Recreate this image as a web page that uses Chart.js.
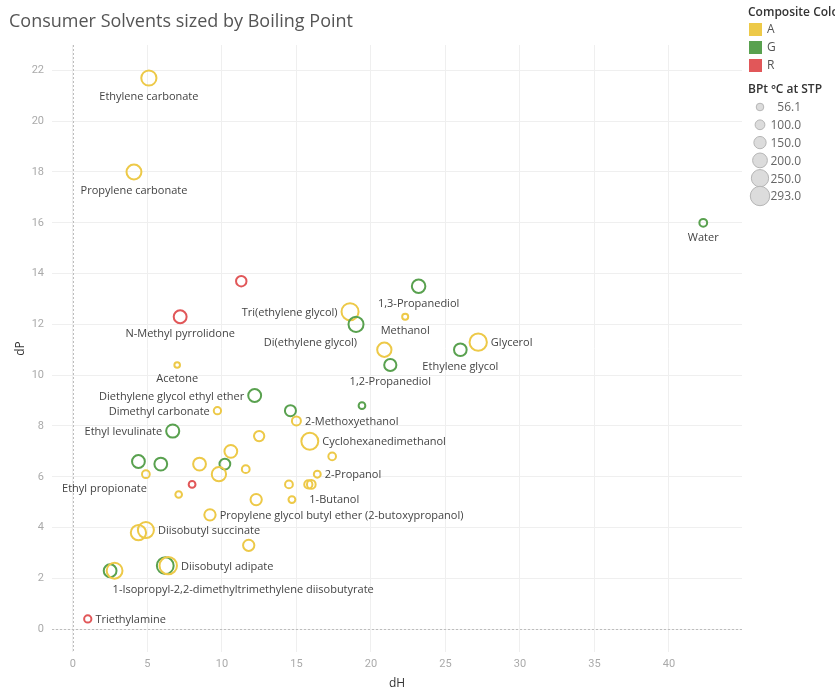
<!DOCTYPE html>
<html>
<head>
<meta charset="utf-8">
<title>Consumer Solvents sized by Boiling Point</title>
<script src="https://cdn.jsdelivr.net/npm/chart.js@4.4.1/dist/chart.umd.min.js"></script>
<style>
  html, body { margin: 0; padding: 0; background: #fff; }
  #wrap { width: 835px; height: 691px; }
</style>
</head>
<body>
<div id="wrap"><canvas id="solventChart" width="835" height="691"></canvas></div>
<script>
// solvent names ('' = unlabelled mark)
const solventNames = [
  'Ethylene carbonate', 'Propylene carbonate', 'Water', '', 'N-Methyl pyrrolidone',
  '1,3-Propanediol', 'Tri(ethylene glycol)', 'Di(ethylene glycol)', 'Methanol', 'Glycerol',
  'Ethylene glycol', '', '1,2-Propanediol', 'Acetone', 'Diethylene glycol ethyl ether',
  'Dimethyl carbonate', '', '', '2-Methoxyethanol', 'Ethyl levulinate',
  '', 'Cyclohexanedimethanol', '', '', '',
  '', '', '', '', '',
  'Ethyl propionate', '', '', '', '',
  '1-Butanol', '2-Propanol', '', '', 'Propylene glycol butyl ether (2-butoxypropanol)',
  '', 'Diisobutyl succinate', '', '', 'Diisobutyl adipate',
  '', '1-Isopropyl-2,2-dimethyltrimethylene diisobutyrate', 'Triethylamine'
];
const dH = [
  5.1, 4.1, 42.3, 11.3, 7.2,
  23.2, 18.6, 19.0, 22.3, 27.2,
  26.0, 20.9, 21.3, 7.0, 12.2,
  9.7, 14.6, 19.4, 15.0, 6.7,
  12.5, 15.9, 17.4, 10.6, 4.4,
  5.9, 8.5, 10.2, 9.8, 11.6,
  4.9, 8.0, 7.1, 14.5, 15.8,
  16.0, 16.4, 14.7, 12.3, 9.2,
  4.4, 4.9, 11.8, 6.2, 6.4,
  2.5, 2.8, 1.0
];
const dP = [
  21.7, 18.0, 16.0, 13.7, 12.3,
  13.5, 12.5, 12.0, 12.3, 11.3,
  11.0, 11.0, 10.4, 10.4, 9.2,
  8.6, 8.6, 8.8, 8.2, 7.8,
  7.6, 7.4, 6.8, 7.0, 6.6,
  6.5, 6.5, 6.5, 6.1, 6.3,
  6.1, 5.7, 5.3, 5.7, 5.7,
  5.7, 6.1, 5.1, 5.1, 4.5,
  3.8, 3.9, 3.3, 2.5, 2.5,
  2.3, 2.3, 0.4
];
const boilingPoint = [
  248, 242, 100, 153, 202,
  214, 285, 245, 65, 290,
  197, 230, 188, 56.1, 202,
  90, 165, 78, 124, 206,
  150, 283, 97, 200, 200,
  200, 200, 160, 230, 100,
  99, 80, 77, 100, 108,
  118, 82, 82, 170, 171,
  250, 265, 170, 280, 293,
  200, 260, 89
];
const compositeColour = [
  'A', 'A', 'G', 'R', 'R',
  'G', 'A', 'G', 'A', 'A',
  'G', 'A', 'G', 'A', 'G',
  'A', 'G', 'G', 'A', 'G',
  'A', 'A', 'A', 'A', 'G',
  'G', 'A', 'G', 'A', 'A',
  'A', 'R', 'A', 'A', 'A',
  'A', 'A', 'A', 'A', 'A',
  'A', 'A', 'A', 'G', 'A',
  'G', 'A', 'R'
];
const xTickValues = [0, 5, 10, 15, 20, 25, 30, 35, 40];
const yTickValues = [0, 2, 4, 6, 8, 10, 12, 14, 16, 18, 20, 22];
const colourKeys = ['A', 'G', 'R'];
const sizeLegendValues = ['56.1', '100.0', '150.0', '200.0', '250.0', '293.0'];

// styling
const colourMap = { A: '#EDC948', G: '#59A14F', R: '#E15759' };
const radiusFor = bp => 1.4 + 0.025 * bp;
// where each label sits relative to its mark
const labelPlace = {
  'Ethylene carbonate': 'b', 'Propylene carbonate': 'b', 'Water': 'b',
  'N-Methyl pyrrolidone': 'b', '1,3-Propanediol': 'b', 'Tri(ethylene glycol)': 'l',
  'Di(ethylene glycol)': 'bl', 'Methanol': 'b', 'Glycerol': 'r', 'Ethylene glycol': 'b',
  '1,2-Propanediol': 'b', 'Acetone': 'b', 'Diethylene glycol ethyl ether': 'l',
  'Dimethyl carbonate': 'l', '2-Methoxyethanol': 'r', 'Ethyl levulinate': 'l',
  'Cyclohexanedimethanol': 'r', 'Ethyl propionate': 'bl', '1-Butanol': 'br',
  '2-Propanol': 'r', 'Propylene glycol butyl ether (2-butoxypropanol)': 'r',
  'Diisobutyl succinate': 'r', 'Diisobutyl adipate': 'r',
  '1-Isopropyl-2,2-dimethyltrimethylene diisobutyrate': 'br', 'Triethylamine': 'r'
};
const labelFont = '11px "Open Sans", sans-serif';

const points = dH.map((h, i) => ({ x: h, y: dP[i] }));

const zeroLines = {
  id: 'zeroLines',
  beforeDatasetsDraw(chart) {
    const { ctx, chartArea, scales } = chart;
    const x0 = Math.round(scales.x.getPixelForValue(0)) + 0.5;
    const y0 = Math.round(scales.y.getPixelForValue(0)) + 0.5;
    ctx.save();
    ctx.strokeStyle = '#bdbdbd';
    ctx.lineWidth = 1;
    ctx.setLineDash([2, 2]);
    ctx.beginPath();
    ctx.moveTo(x0, chartArea.top);
    ctx.lineTo(x0, chartArea.bottom);
    ctx.moveTo(chartArea.left, y0);
    ctx.lineTo(chartArea.right, y0);
    ctx.stroke();
    ctx.restore();
  }
};

const pointLabels = {
  id: 'pointLabels',
  afterDatasetsDraw(chart) {
    const { ctx } = chart;
    const meta = chart.getDatasetMeta(0);
    ctx.save();
    ctx.font = labelFont;
    ctx.fillStyle = '#444';
    ctx.textBaseline = 'middle';
    meta.data.forEach((pt, i) => {
      const name = solventNames[i];
      if (!name) return;
      const r = radiusFor(boilingPoint[i]);
      const place = labelPlace[name] || 'r';
      let x = pt.x, y = pt.y;
      if (place === 'r') { ctx.textAlign = 'left'; x += r + 4; y += 1; }
      else if (place === 'l') { ctx.textAlign = 'right'; x -= r + 4; y += 1; }
      else if (place === 'b') { ctx.textAlign = 'center'; y += r + 11; }
      else if (place === 'br') { ctx.textAlign = 'left'; x -= 2; y += r + 11; }
      else if (place === 'bl') { ctx.textAlign = 'right'; x += 1; y += r + 11; }
      ctx.fillText(name, x, y);
    });
    ctx.restore();
  }
};

const titleAndLegend = {
  id: 'titleAndLegend',
  afterDraw(chart) {
    const { ctx } = chart;
    ctx.save();
    // title
    ctx.font = '18px "Open Sans", sans-serif';
    ctx.fillStyle = '#555';
    ctx.textAlign = 'left';
    ctx.textBaseline = 'middle';
    ctx.fillText('Consumer Solvents sized by Boiling Point', 9, 22);

    // colour legend
    ctx.font = '600 12px "Open Sans", sans-serif';
    ctx.fillStyle = '#333';
    ctx.fillText('Composite Colour', 748, 13);
    ctx.font = '12px "Open Sans", sans-serif';
    colourKeys.forEach((k, i) => {
      const y = 23 + i * 18;
      ctx.fillStyle = colourMap[k];
      ctx.fillRect(749, y, 13, 13);
      ctx.fillStyle = '#555';
      ctx.fillText(k, 767, y + 7);
    });

    // size legend
    ctx.font = '600 12px "Open Sans", sans-serif';
    ctx.fillStyle = '#333';
    ctx.fillText('BPt ºC at STP', 748, 90);
    ctx.font = '12px "Open Sans", sans-serif';
    sizeLegendValues.forEach((v, i) => {
      const y = 107 + i * 17.8;
      const r = radiusFor(parseFloat(v)) + 1;
      ctx.beginPath();
      ctx.arc(760, y, r, 0, Math.PI * 2);
      ctx.fillStyle = '#dcdcdc';
      ctx.fill();
      ctx.strokeStyle = '#b5b5b5';
      ctx.lineWidth = 1;
      ctx.stroke();
      ctx.fillStyle = '#666';
      ctx.textAlign = 'right';
      ctx.fillText(v, 801, y + 1);
    });
    ctx.restore();
  }
};

const ctx = document.getElementById('solventChart').getContext('2d');
new Chart(ctx, {
  type: 'scatter',
  data: {
    datasets: [{
      label: 'Solvents',
      data: points,
      pointStyle: 'circle',
      backgroundColor: 'rgba(255,255,255,0)',
      borderColor: c => colourMap[compositeColour[c.dataIndex]],
      borderWidth: 2,
      pointRadius: c => radiusFor(boilingPoint[c.dataIndex]),
      pointHoverRadius: c => radiusFor(boilingPoint[c.dataIndex])
    }]
  },
  options: {
    responsive: false,
    animation: false,
    devicePixelRatio: 1,
    layout: { padding: { top: 45, right: 93, left: 0, bottom: 0 } },
    plugins: {
      legend: { display: false },
      tooltip: { enabled: false }
    },
    scales: {
      x: {
        type: 'linear',
        min: -1.4,
        max: 44.9,
        afterBuildTicks: s => { s.ticks = xTickValues.map(v => ({ value: v })); },
        afterFit: s => { s.height = 39; },
        grid: { color: '#efefef', drawTicks: false },
        border: { display: false },
        ticks: { color: '#aaa', padding: 6, font: { family: 'Roboto', size: 11 } },
        title: { display: true, text: 'dH', color: '#333', padding: { top: 0, bottom: 0 }, font: { family: 'Open Sans', size: 12 } }
      },
      y: {
        type: 'linear',
        min: -0.9,
        max: 23.0,
        afterBuildTicks: s => { s.ticks = yTickValues.map(v => ({ value: v })); },
        afterFit: s => { s.width = 52; },
        grid: { color: '#efefef', drawTicks: false },
        border: { display: false },
        ticks: { color: '#aaa', padding: 8, font: { family: 'Roboto', size: 11 } },
        title: { display: true, text: 'dP', color: '#333', padding: { top: 13, bottom: 0 }, font: { family: 'Open Sans', size: 12 } }
      }
    }
  },
  plugins: [zeroLines, pointLabels, titleAndLegend]
});
</script>
</body>
</html>
